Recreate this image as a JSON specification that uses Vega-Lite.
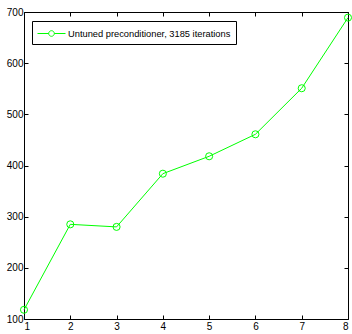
{
  "$schema": "https://vega.github.io/schema/vega-lite/v6.json",
  "width": 324,
  "height": 307,
  "autosize": {"type": "none"},
  "padding": {"left": 24, "top": 12, "right": 4, "bottom": 15},
  "background": "white",
  "config": {
    "view": {"stroke": null},
    "font": "Liberation Sans",
    "axis": {
      "grid": false,
      "domainColor": "black",
      "tickColor": "black",
      "tickSize": -4,
      "labelColor": "black",
      "labelFontSize": 10,
      "labelFont": "Liberation Sans",
      "title": null
    }
  },
  "data": {
    "values": [
      {"k": 1, "v": 118, "s": "Untuned preconditioner, 3185 iterations"},
      {"k": 2, "v": 285, "s": "Untuned preconditioner, 3185 iterations"},
      {"k": 3, "v": 280, "s": "Untuned preconditioner, 3185 iterations"},
      {"k": 4, "v": 384, "s": "Untuned preconditioner, 3185 iterations"},
      {"k": 5, "v": 418, "s": "Untuned preconditioner, 3185 iterations"},
      {"k": 6, "v": 461, "s": "Untuned preconditioner, 3185 iterations"},
      {"k": 7, "v": 551, "s": "Untuned preconditioner, 3185 iterations"},
      {"k": 8, "v": 689, "s": "Untuned preconditioner, 3185 iterations"}
    ]
  },
  "layer": [
    {
      "mark": {"type": "line", "strokeWidth": 1, "point": {"filled": false, "size": 50, "strokeWidth": 1}},
      "encoding": {
        "x": {"field": "k", "type": "quantitative", "scale": {"domain": [1, 8], "nice": false},
          "axis": {"orient": "bottom", "values": [1,2,3,4,5,6,7,8], "labelPadding": 6}},
        "y": {"field": "v", "type": "quantitative", "scale": {"domain": [100, 700], "nice": false},
          "axis": {"orient": "left", "values": [100,200,300,400,500,600,700], "labelPadding": 5}},
        "color": {"field": "s", "type": "nominal", "scale": {"range": ["#00ff00"]},
          "legend": {
            "title": null,
            "orient": "none",
            "legendX": 8,
            "legendY": 9,
            "strokeColor": "black",
            "fillColor": "white",
            "padding": 5,
            "labelFontSize": 9.3,
            "labelFont": "Liberation Sans",
            "labelColor": "black",
            "labelLimit": 300,
            "symbolOffset": 7,
            "labelOffset": 9,
            "symbolType": "M-2,0H-0.4M0.4,0H2M0.4,0A0.4,0.4 0 1,1 -0.4,0A0.4,0.4 0 1,1 0.4,0",
            "symbolSize": 196,
            "symbolStrokeWidth": 1,
            "symbolFillColor": "transparent"
          }}
      }
    },
    {
      "mark": {"type": "point", "opacity": 0},
      "encoding": {
        "x": {"field": "k", "type": "quantitative", "scale": {"domain": [1, 8], "nice": false},
          "axis": {"orient": "top", "values": [1,2,3,4,5,6,7,8], "labels": false}},
        "y": {"field": "v", "type": "quantitative", "scale": {"domain": [100, 700], "nice": false},
          "axis": {"orient": "right", "values": [100,200,300,400,500,600,700], "labels": false}}
      }
    }
  ],
  "resolve": {"axis": {"x": "independent", "y": "independent"}}
}
